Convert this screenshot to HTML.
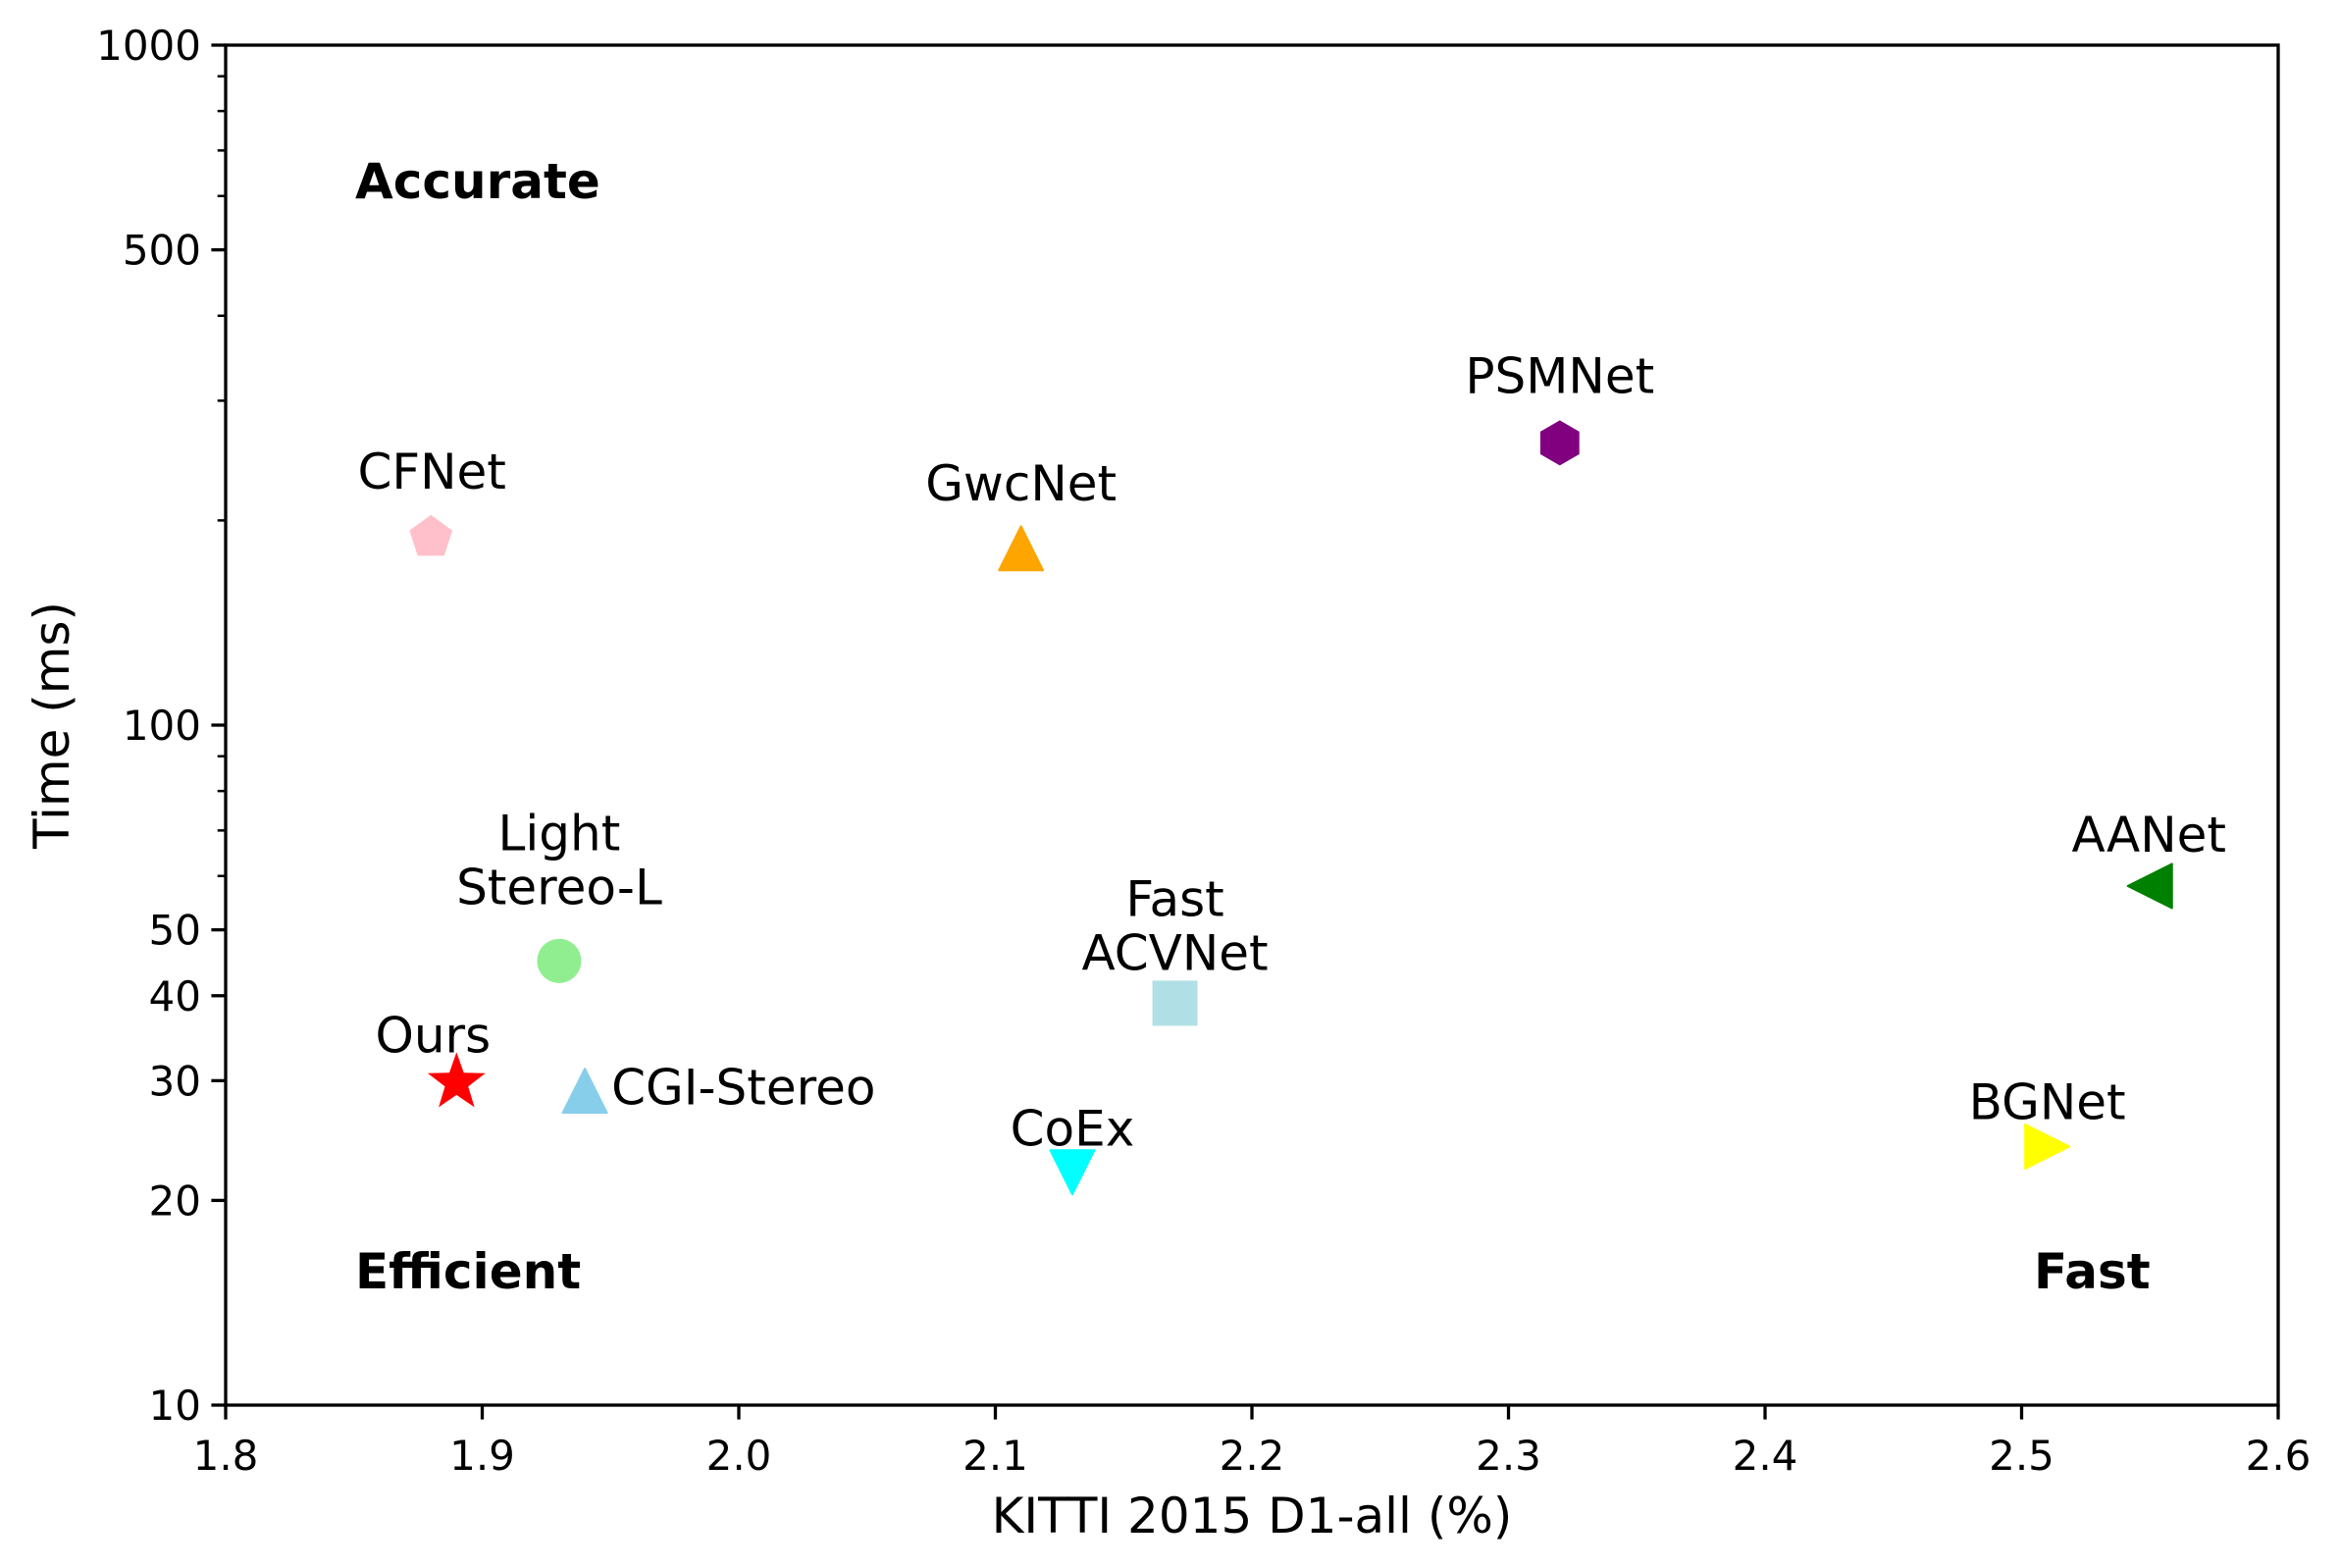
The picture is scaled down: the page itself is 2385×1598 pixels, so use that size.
<!DOCTYPE html>
<html><head><meta charset="utf-8"><style>
html,body{margin:0;padding:0;background:#fff;}
svg{display:block;font-family:"DejaVu Sans","Liberation Sans",sans-serif;}
</style></head><body>
<svg id="chart" width="2385" height="1598" viewBox="0 0 2385 1598" xmlns="http://www.w3.org/2000/svg">
<rect width="2385" height="1598" fill="#fff"/>
<g id="marks"></g>
<g id="axes"></g>
</svg>
<script>
const methods = ["Ours","CGI-Stereo","LightStereo-L","CFNet","GwcNet","PSMNet","FastACVNet","CoEx","BGNet","AANet"];
const d1all = [1.89,1.94,1.93,1.88,2.11,2.32,2.17,2.13,2.51,2.55];
const timeMs = [30,29,45,190,182,260,39,22,24,58];
const xTicks = [1.8,1.9,2.0,2.1,2.2,2.3,2.4,2.5,2.6];
const xTickLabels = ["1.8","1.9","2.0","2.1","2.2","2.3","2.4","2.5","2.6"];
const yTicks = [10,20,30,40,50,100,500,1000];
const yTickLabels = ["10","20","30","40","50","100","500","1000"];

const NS="http://www.w3.org/2000/svg";
const L=230,R=2322,T=46,B=1432;
const xMin=1.8,xMax=2.6,yMin=1,yMax=3;
function xs(v){return L+(v-xMin)/(xMax-xMin)*(R-L);}
function ys(v){return B-(Math.log10(v)-yMin)/(yMax-yMin)*(B-T);}
function mk(tag,attrs,parent){const e=document.createElementNS(NS,tag);for(const k in attrs)e.setAttribute(k,attrs[k]);parent.appendChild(e);return e;}
const marks=document.getElementById('marks');
const axes=document.getElementById('axes');

const styles=[
 {shape:"star",color:"red"},
 {shape:"tri-up",color:"skyblue"},
 {shape:"circle",color:"lightgreen"},
 {shape:"pentagon",color:"pink"},
 {shape:"tri-up",color:"orange"},
 {shape:"hexagon",color:"purple"},
 {shape:"square",color:"powderblue"},
 {shape:"tri-down",color:"cyan"},
 {shape:"tri-right",color:"yellow"},
 {shape:"tri-left",color:"green"}
];
const labelLayout=[
 {lines:["Ours"],anchor:"middle",dx:-24,dy:-29},
 {lines:["CGI-Stereo"],anchor:"start",dx:27,dy:14},
 {lines:["Light","Stereo-L"],anchor:"middle",dx:0,dy:-58},
 {lines:["CFNet"],anchor:"middle",dx:1,dy:-48},
 {lines:["GwcNet"],anchor:"middle",dx:0,dy:-49},
 {lines:["PSMNet"],anchor:"middle",dx:0,dy:-51},
 {lines:["Fast","ACVNet"],anchor:"middle",dx:0,dy:-34},
 {lines:["CoEx"],anchor:"middle",dx:0,dy:-27},
 {lines:["BGNet"],anchor:"middle",dx:0,dy:-28},
 {lines:["AANet"],anchor:"middle",dx:-1,dy:-35}
];
function poly(cx,cy,r,n,rot){const p=[];for(let i=0;i<n;i++){const a=rot+i*2*Math.PI/n;p.push((cx+r*Math.cos(a)).toFixed(1)+","+(cy+r*Math.sin(a)).toFixed(1));}return p.join(" ");}
function starPts(cx,cy,ro,ri){const p=[];for(let i=0;i<10;i++){const r=i%2?ri:ro;const a=-Math.PI/2+i*Math.PI/5;p.push((cx+r*Math.cos(a)).toFixed(1)+","+(cy+r*Math.sin(a)).toFixed(1));}return p.join(" ");}

for(let i=0;i<methods.length;i++){
  const cx=xs(d1all[i]),cy=ys(timeMs[i]);const s=styles[i];
  let el;
  if(s.shape==="circle") el=mk('circle',{cx:cx,cy:cy,r:22.5,fill:s.color},marks);
  else if(s.shape==="square") el=mk('rect',{x:cx-23,y:cy-23,width:46,height:46,fill:s.color},marks);
  else if(s.shape==="star") el=mk('polygon',{points:starPts(cx,cy+2,31,12.5),fill:s.color},marks);
  else if(s.shape==="pentagon") el=mk('polygon',{points:poly(cx,cy+2,23,5,-Math.PI/2),fill:s.color},marks);
  else if(s.shape==="hexagon") el=mk('polygon',{points:poly(cx,cy,23,6,-Math.PI/2),fill:s.color},marks);
  else {
    const h=22.5;let pts;
    if(s.shape==="tri-up") pts=[[cx,cy-h],[cx+h,cy+h],[cx-h,cy+h]];
    else if(s.shape==="tri-down") pts=[[cx,cy+h],[cx+h,cy-h],[cx-h,cy-h]];
    else if(s.shape==="tri-right") pts=[[cx+h,cy],[cx-h,cy-h],[cx-h,cy+h]];
    else pts=[[cx-h,cy],[cx+h,cy-h],[cx+h,cy+h]];
    el=mk('polygon',{points:pts.map(p=>p.join(",")).join(" "),fill:s.color,'stroke':s.color,'stroke-width':2,'stroke-linejoin':'round'},marks);
  }
  
  
  const lay=labelLayout[i];
  const n=lay.lines.length;
  for(let j=0;j<n;j++){
    const t=mk('text',{x:cx+lay.dx,y:cy+lay.dy-(n-1-j)*55,'font-size':50,'text-anchor':lay.anchor,fill:'#000'},marks);
    t.textContent=lay.lines[j];
    
    
  }
}

const regions=[["Accurate",362,202],["Efficient",362,1313],["Fast",2073,1313]];
for(const r of regions){
  const t=mk('text',{x:r[1],y:r[2],'font-size':50,'font-weight':'bold',fill:'#000'},marks);
  t.textContent=r[0];
  
  
}

const frame=mk('rect',{x:L,y:T,width:R-L,height:B-T,fill:'none',stroke:'#000','stroke-width':3.3},axes);



for(let i=0;i<xTicks.length;i++){
  const x=xs(xTicks[i]);
  const tk=mk('line',{x1:x,y1:B,x2:x,y2:B+14.6,stroke:'#000','stroke-width':3.3},axes);
  
  
  const t=mk('text',{x:x,y:B+66,'font-size':42,'text-anchor':'middle',fill:'#000'},axes);
  t.textContent=xTickLabels[i];
  
  
}
for(let dec=10;dec<1000;dec*=10){
  for(let k=2;k<=9;k++){
    const v=dec*k;
    const y=ys(v);
    const tk=mk('line',{x1:L,y1:y,x2:L-8.3,y2:y,stroke:'#000','stroke-width':2.5},axes);
    
    
  }
}
for(let i=0;i<yTicks.length;i++){
  const y=ys(yTicks[i]);
  const tk=mk('line',{x1:L,y1:y,x2:L-14.6,y2:y,stroke:'#000','stroke-width':3.3},axes);
  
  
  const t=mk('text',{x:L-25,y:y+15,'font-size':42,'text-anchor':'end',fill:'#000'},axes);
  t.textContent=yTickLabels[i];
  
  
}
const xt=mk('text',{x:(L+R)/2,y:1562,'font-size':50,'text-anchor':'middle',fill:'#000'},axes);
xt.textContent="KITTI 2015 D1-all (%)";


const yt=mk('text',{x:0,y:0,'font-size':50,'text-anchor':'middle',fill:'#000',transform:'translate(70,739) rotate(-90)'},axes);
yt.textContent="Time (ms)";


</script>
</body></html>
